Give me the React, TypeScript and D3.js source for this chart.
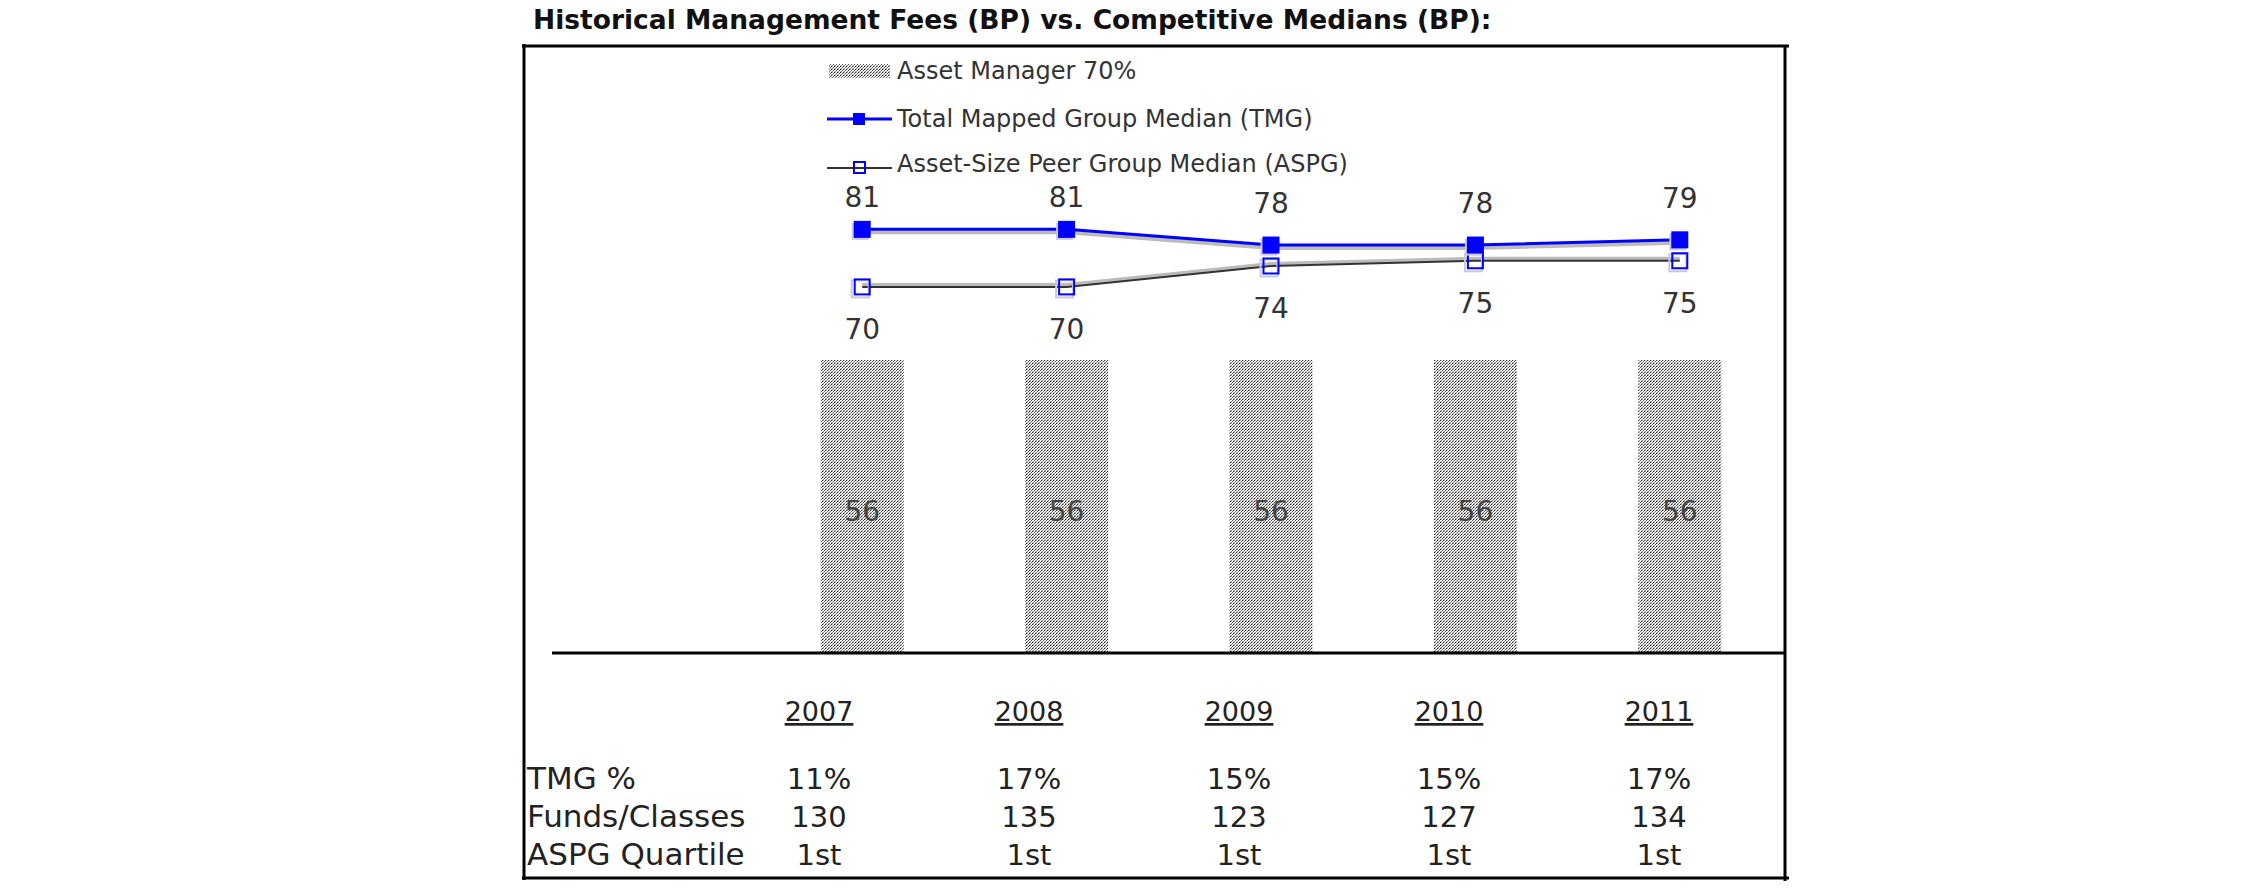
import React from 'react';
import * as d3 from 'd3';

const years = ['2007', '2008', '2009', '2010', '2011'];
const assetManager = [56, 56, 56, 56, 56];
const tmgMedian = [81, 81, 78, 78, 79];
const aspgMedian = [70, 70, 74, 75, 75];
const tmgPct = ['11%', '17%', '15%', '15%', '17%'];
const fundsClasses = ['130', '135', '123', '127', '134'];
const aspgQuartile = ['1st', '1st', '1st', '1st', '1st'];
const rowLabels = ['TMG %', 'Funds/Classes', 'ASPG Quartile'];
const legendLabels = [
  'Asset Manager 70%',
  'Total Mapped Group Median (TMG)',
  'Asset-Size Peer Group Median (ASPG)',
];

const W = 2250;
const H = 895;
const FONT = "'DejaVu Sans', Verdana, sans-serif";

const App = () => {
  const x = d3.scaleBand()
    .domain(years)
    .range([760, 1782])
    .paddingInner(0.594)
    .paddingOuter(0.297);
  const y = d3.scaleLinear().domain([0, 100]).range([653, 130]);
  const tx = d3.scalePoint().domain(years).range([819, 1659]);
  const cx = (i) => x(years[i]) + x.bandwidth() / 2;

  const line = d3.line<number>()
    .x((d, i) => cx(i))
    .y(d => y(d));

  const tableRows = [tmgPct, fundsClasses, aspgQuartile];
  const rowY = [789, 827, 865];
  const legendY = [71, 119, 164];
  const mk = 17;
  // labels above the TMG line are kept below the legend block
  const tmgLabelY = (v) => Math.max(y(v) - 32, 207);

  return (
    <svg width={W} height={H} style={{ position: 'absolute', left: 0, top: 0, background: '#fff' }}>
      <defs>
        <pattern id="dots" width="3" height="3" patternUnits="userSpaceOnUse">
          <rect width="3" height="3" fill="#fff" />
          <rect x="0" y="0" width="1" height="1" fill="#222" />
          <rect x="1" y="0" width="1" height="1" fill="#bbb" />
          <rect x="2" y="1" width="1" height="1" fill="#555" />
          <rect x="1" y="2" width="1" height="1" fill="#888" />
          <rect x="0" y="2" width="1" height="1" fill="#ccc" />
        </pattern>
      </defs>

      {/* title */}
      <text x={533} y={29} fontFamily={FONT} fontWeight="bold" fontSize={26.5} fill="#111">
        Historical Management Fees (BP) vs. Competitive Medians (BP):
      </text>

      {/* frame */}
      <g stroke="#000" strokeWidth={3}>
        <line x1={522} x2={1789} y1={46} y2={46} />
        <line x1={524} x2={524} y1={44} y2={880} />
        <line x1={1785} x2={1785} y1={46} y2={881} />
        <line x1={522} x2={1789} y1={878} y2={878} />
      </g>

      {/* bars */}
      {assetManager.map((v, i) => (
        <g key={'b' + i}>
          <rect x={x(years[i])} y={y(v)} width={x.bandwidth()} height={y(0) - y(v)} fill="url(#dots)" />
          <text x={cx(i)} y={(y(v) + y(0)) / 2 + 14} textAnchor="middle" fontFamily={FONT} fontSize={28} fill="#444">
            {v}
          </text>
        </g>
      ))}

      {/* axis baseline */}
      <line x1={552} x2={1785} y1={y(0)} y2={y(0)} stroke="#000" strokeWidth={3} />

      {/* ASPG line */}
      <path d={line(aspgMedian)} fill="none" stroke="#bbb" strokeWidth={4} transform="translate(0,-2)" />
      <path d={line(aspgMedian)} fill="none" stroke="#333" strokeWidth={2} />
      {/* TMG line */}
      <path d={line(tmgMedian)} fill="none" stroke="#bbb" strokeWidth={4} transform="translate(0,3)" />
      <path d={line(tmgMedian)} fill="none" stroke="#0000ff" strokeWidth={3} />

      {aspgMedian.map((v, i) => (
        <g key={'a' + i}>
          <rect x={cx(i) - mk / 2 - 2} y={y(v) - mk / 2 + 2} width={mk} height={mk} fill="none" stroke="#c8c8e6" strokeWidth={2} />
          <rect x={cx(i) - mk / 2 + 1} y={y(v) - mk / 2 + 1} width={mk - 2} height={mk - 2} fill="none" stroke="#0000ff" strokeWidth={2} />
          <text x={cx(i)} y={y(v) + 52} textAnchor="middle" fontFamily={FONT} fontSize={28} fill="#333">
            {v}
          </text>
        </g>
      ))}
      {tmgMedian.map((v, i) => (
        <g key={'t' + i}>
          <rect x={cx(i) - mk / 2 - 2} y={y(v) - mk / 2 + 2} width={mk} height={mk} fill="#c8c8e6" />
          <rect x={cx(i) - mk / 2} y={y(v) - mk / 2} width={mk} height={mk} fill="#0000ff" />
          <text x={cx(i)} y={tmgLabelY(v)} textAnchor="middle" fontFamily={FONT} fontSize={28} fill="#333">
            {v}
          </text>
        </g>
      ))}

      {/* legend */}
      <rect x={829} y={legendY[0] - 7} width={61} height={14} fill="url(#dots)" />
      <line x1={827} x2={892} y1={legendY[1]} y2={legendY[1]} stroke="#0000ff" strokeWidth={3} />
      <rect x={853} y={legendY[1] - 6} width={12} height={12} fill="#0000ff" />
      <line x1={827} x2={892} y1={legendY[2] + 4} y2={legendY[2] + 4} stroke="#333" strokeWidth={2} />
      <rect x={854} y={legendY[2] - 2} width={11} height={11} fill="none" stroke="#0000ff" strokeWidth={2} />
      {legendLabels.map((t, i) => (
        <text key={'l' + i} x={897} y={legendY[i] + 8} fontFamily={FONT} fontSize={24} fill="#333">
          {t}
        </text>
      ))}

      {/* table */}
      {years.map(yr => (
        <text key={'y' + yr} x={tx(yr)} y={721} textAnchor="middle" fontFamily={FONT} fontSize={27} fill="#222"
          textDecoration="underline">
          {yr}
        </text>
      ))}
      {rowLabels.map((lab, r) => (
        <g key={'r' + r}>
          <text x={527} y={rowY[r]} fontFamily={FONT} fontSize={31} fill="#222">{lab}</text>
          {tableRows[r].map((v, i) => (
            <text key={i} x={tx(years[i])} y={rowY[r]} textAnchor="middle" fontFamily={FONT} fontSize={29} fill="#222">
              {v}
            </text>
          ))}
        </g>
      ))}
    </svg>
  );
};

export default App;
